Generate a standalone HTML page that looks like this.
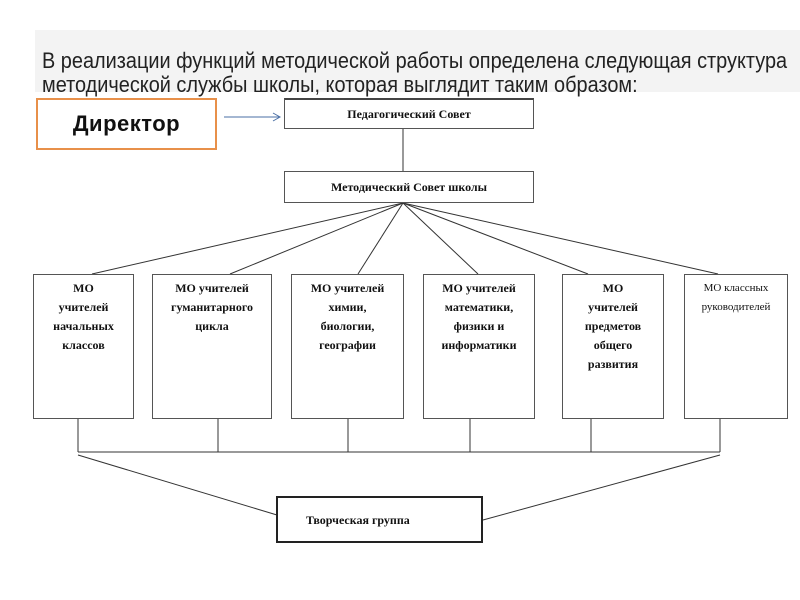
<!DOCTYPE html>
<html><head><meta charset="utf-8"><style>
body{margin:0;width:800px;height:600px;background:#fff;position:relative;overflow:hidden;font-family:"Liberation Serif",serif}
.band{position:absolute;left:35px;top:30px;width:765px;height:62px;background:#f3f3f3}
.t{position:absolute;left:42px;font-family:"Liberation Sans",sans-serif;font-size:22px;color:#222;white-space:nowrap;transform:scaleX(0.905);transform-origin:left}
.b{position:absolute;border:1px solid #555;background:#fff;box-sizing:border-box;text-align:center;font-size:12px;font-weight:bold;line-height:19px;color:#111}
</style></head><body>
<div class="band"></div>
<div class="t" style="top:48px">В реализации функций методической работы определена следующая структура</div>
<div class="t" style="top:72px">методической службы школы, которая выглядит таким образом:</div>
<div style="position:absolute;left:36px;top:98px;width:181px;height:52px;border:2px solid #e8904a;box-sizing:border-box;font-family:'Liberation Sans',sans-serif;font-weight:bold;font-size:22px;letter-spacing:0.5px;text-align:center;line-height:48px;color:#111">Директор</div>
<svg width="800" height="600" style="position:absolute;left:0;top:0">
<g stroke="#333" stroke-width="1" fill="none">
<line x1="224" y1="117" x2="280" y2="117" stroke="#4a6fa5"/>
<polyline points="273,113 280,117 273,121" stroke="#4a6fa5"/>
<line x1="403" y1="129" x2="403" y2="171"/>
<line x1="403" y1="203" x2="92" y2="274"/>
<line x1="403" y1="203" x2="230" y2="274"/>
<line x1="403" y1="203" x2="358" y2="274"/>
<line x1="403" y1="203" x2="478" y2="274"/>
<line x1="403" y1="203" x2="588" y2="274"/>
<line x1="403" y1="203" x2="718" y2="274"/>
<line x1="78" y1="419" x2="78" y2="452"/>
<line x1="218" y1="419" x2="218" y2="452"/>
<line x1="348" y1="419" x2="348" y2="452"/>
<line x1="470" y1="419" x2="470" y2="452"/>
<line x1="591" y1="419" x2="591" y2="452"/>
<line x1="720" y1="419" x2="720" y2="452"/>
<line x1="78" y1="452" x2="720" y2="452"/>
<line x1="78" y1="455" x2="277" y2="515"/>
<line x1="720" y1="455" x2="483" y2="520"/>
</g></svg>
<div class="b" style="left:284px;top:98px;width:250px;height:31px;line-height:29px;border-top:2px solid #444">Педагогический Совет</div>
<div class="b" style="left:284px;top:171px;width:250px;height:32px;line-height:30px">Методический Совет школы</div>
<div class="b" style="left:33px;top:274px;width:101px;height:145px;padding-top:4px;line-height:19px">МО<br>учителей<br>начальных<br>классов</div>
<div class="b" style="left:152px;top:274px;width:120px;height:145px;padding-top:4px">МО учителей<br>гуманитарного<br>цикла</div>
<div class="b" style="left:291px;top:274px;width:113px;height:145px;padding-top:4px">МО учителей<br>химии,<br>биологии,<br>географии</div>
<div class="b" style="left:423px;top:274px;width:112px;height:145px;padding-top:4px">МО учителей<br>математики,<br>физики и<br>информатики</div>
<div class="b" style="left:562px;top:274px;width:102px;height:145px;padding-top:4px">МО<br>учителей<br>предметов<br>общего<br>развития</div>
<div class="b" style="left:684px;top:274px;width:104px;height:145px;padding-top:4px;font-weight:normal;font-size:11px">МО классных<br>руководителей</div>
<div class="b" style="left:276px;top:496px;width:207px;height:47px;border:2px solid #222;line-height:44px;text-align:left;padding-left:28px">Творческая группа</div>
</body></html>
